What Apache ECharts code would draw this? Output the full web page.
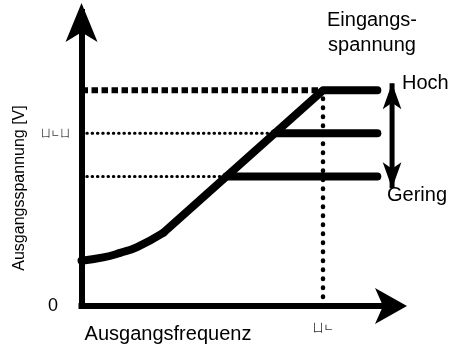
<!DOCTYPE html>
<html>
<head>
<meta charset="utf-8">
<script src="https://cdn.jsdelivr.net/npm/echarts@6/dist/echarts.min.js"></script>
<style>
  html, body { margin: 0; padding: 0; background: #fff; }
  #chart { width: 451px; height: 354px; }
</style>
</head>
<body>
<div id="chart"></div>
<script>
// Output voltage (% of rated) over output frequency (% of base frequency)
const boostCurve = [[0, 21], [9, 22.5], [16, 24.6], [23, 27.3], [34, 34]];
const vfLine = [[34, 34], [100, 100], [122.5, 100]];
const lowerLevels = [80, 60];          // limited by a lower input voltage
const ratedLevel = 100;
const levelEnd = 122.5;
const ratedFreq = 100;
const yTickValues = [0, 80];
const yTickLabels = ['0', 'ㄩㄴㄩ'];
const xTickValues = [100];
const xTickLabels = ['ㄩㄴ'];
const rangeArrowX = 128.6;
const rangeArrowEnds = [103.2, 54.6];  // Hoch (top) ... Gering (bottom)

const FONT = '"Liberation Sans", Arial, sans-serif';
const BLACK = '#000';

const thick = { color: BLACK, width: 8, cap: 'round', join: 'round' };

const series = [];

// rated-voltage guide (square dashes)
series.push({
  type: 'line', data: [[0, ratedLevel], [ratedFreq, ratedLevel]],
  symbol: 'none', z: 1,
  lineStyle: { color: BLACK, width: 6, type: [6.5, 3.5], cap: 'butt' }
});
// guides for lower input voltages (fine dots)
lowerLevels.forEach(v => series.push({
  type: 'line', data: [[0, v], [v, v]],
  symbol: 'none', z: 1,
  lineStyle: { color: BLACK, width: 3, type: [0.5, 4.8], cap: 'round' }
}));
// base frequency guide
series.push({
  type: 'line', data: [[ratedFreq, 0], [ratedFreq, ratedLevel]],
  symbol: 'none', z: 1,
  lineStyle: { color: BLACK, width: 4.5, type: [0.5, 8.5], cap: 'round' }
});
// torque boost section
series.push({
  type: 'line', data: boostCurve, smooth: 0.5,
  symbol: 'none', z: 3, lineStyle: thick
});
// V/f proportional section with rated plateau
series.push({
  type: 'line', data: vfLine,
  symbol: 'none', z: 3, lineStyle: thick
});
// plateaus for lower input voltages
lowerLevels.forEach(v => series.push({
  type: 'line', data: [[v, v], [levelEnd, v]],
  symbol: 'none', z: 3, lineStyle: thick
}));
// double arrow: input voltage range
series.push({
  type: 'line', clip: false, z: 3,
  data: [
    { value: [rangeArrowX, rangeArrowEnds[0]], symbolRotate: 0 },
    { value: [rangeArrowX, rangeArrowEnds[1]], symbolRotate: 180 }
  ],
  symbol: 'arrow', symbolSize: [14, 26], showSymbol: true, showAllSymbol: true,
  itemStyle: { color: BLACK },
  lineStyle: { color: BLACK, width: 5 }
});

const chart = echarts.init(document.getElementById('chart'), null, { renderer: 'canvas' });
chart.setOption({
  animation: false,
  backgroundColor: '#fff',
  grid: { left: 78.5, right: 50, top: 9, bottom: 45 },
  xAxis: {
    type: 'value', min: -1.25, max: 132.3,
    axisLine: {
      show: true, onZero: true, symbol: ['none', 'arrow'], symbolSize: [27, 32],
      symbolOffset: [0, 6],
      lineStyle: { color: BLACK, width: 6, cap: 'butt' }
    },
    axisTick: { show: false }, splitLine: { show: false },
    axisLabel: {
      customValues: xTickValues,
      formatter: v => xTickLabels[xTickValues.indexOf(v)] || '', margin: 13,
      color: '#333', fontSize: 11, fontFamily: '"Noto Sans CJK SC", sans-serif'
    }
  },
  yAxis: {
    type: 'value', min: -1.4, max: 137.6,
    axisLine: {
      show: true, onZero: true, symbol: ['none', 'arrow'], symbolSize: [24, 39],
      symbolOffset: [0, 6],
      lineStyle: { color: BLACK, width: 6, cap: 'butt' }
    },
    axisTick: { show: false }, splitLine: { show: false },
    axisLabel: {
      customValues: yTickValues,
      margin: 8.5,
      formatter: v => {
        const i = yTickValues.indexOf(v);
        if (i < 0) return '';
        return (v === 0 ? '{z|' : '{g|') + yTickLabels[i] + '}';
      },
      rich: {
        z: { fontSize: 18, fontFamily: FONT, color: BLACK, padding: [0, 12, 0, 0] },
        g: { fontSize: 10, fontFamily: '"Noto Sans CJK SC", sans-serif', color: '#333' }
      }
    }
  },
  graphic: [
    { type: 'text', x: 372, y: 8, silent: true,
      style: { text: 'Eingangs-\nspannung', font: '20px ' + FONT, fill: BLACK,
               align: 'center', verticalAlign: 'top', lineHeight: 25 } },
    { type: 'text', x: 402, y: 73, silent: true,
      style: { text: 'Hoch', font: '20px ' + FONT, fill: BLACK, align: 'left', verticalAlign: 'top' } },
    { type: 'text', x: 387, y: 185, silent: true,
      style: { text: 'Gering', font: '20px ' + FONT, fill: BLACK, align: 'left', verticalAlign: 'top' } },
    { type: 'text', x: 168, y: 324, silent: true,
      style: { text: 'Ausgangsfrequenz', font: '20px ' + FONT, fill: BLACK, align: 'center', verticalAlign: 'top' } },
    { type: 'text', x: 20, y: 188, rotation: Math.PI / 2, silent: true,
      style: { text: 'Ausgangsspannung [V]', font: '16px ' + FONT, fill: BLACK, align: 'center', verticalAlign: 'middle' } }
  ],
  series: series
});
</script>
</body>
</html>
